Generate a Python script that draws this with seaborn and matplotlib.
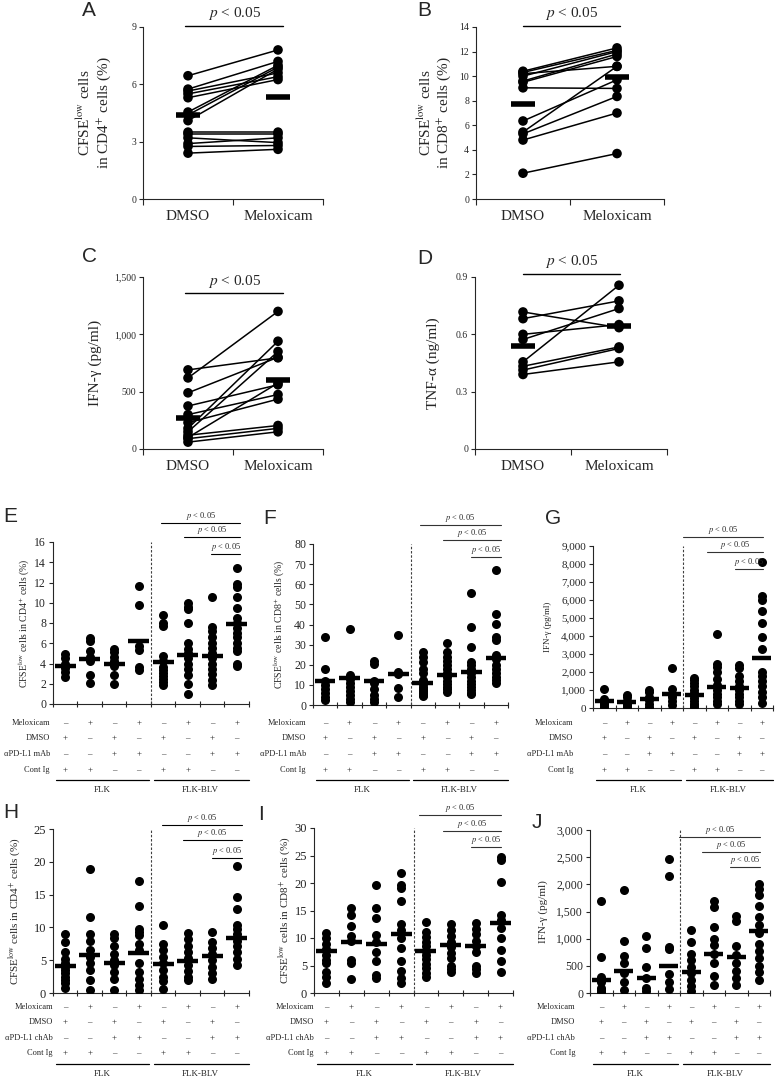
import numpy as np
import pandas as pd
import matplotlib
matplotlib.use("Agg")
import matplotlib.pyplot as plt
import matplotlib.transforms as mtransforms
from matplotlib.lines import Line2D
from matplotlib.ticker import FuncFormatter
import seaborn as sns

# ---------------- data ----------------
paired_labels = ["DMSO", "Meloxicam"]

a_dmso = [6.45, 5.75, 5.65, 5.5, 5.3, 4.55, 4.4, 4.1, 3.5, 3.4, 3.2, 2.9, 2.75, 2.4]
a_melox = [7.8, 7.2, 6.6, 6.4, 6.25, 7.0, 6.9, 6.8, 3.5, 3.4, 2.95, 3.2, 2.8, 2.6]
a_means = [4.4, 5.32]

b_dmso = [10.4, 10.3, 10.2, 10.0, 9.6, 9.5, 9.05, 6.35, 5.45, 5.3, 4.8, 2.1]
b_melox = [12.3, 12.1, 10.8, 12.0, 11.8, 11.6, 9.0, 9.7, 10.8, 8.35, 7.0, 3.7]
b_means = [7.7, 9.95]

c_dmso = [690, 620, 490, 375, 300, 230, 180, 150, 120, 100, 90, 60]
c_melox = [795, 1200, 800, 560, 475, 435, 940, 850, 205, 575, 180, 150]
c_means = [267, 600]

d_dmso = [0.717, 0.682, 0.60, 0.573, 0.456, 0.433, 0.413, 0.39]
d_melox = [0.635, 0.775, 0.651, 0.735, 0.857, 0.534, 0.526, 0.456]
d_means = [0.538, 0.644]

e_groups = [
    [4.9, 4.5, 4.0, 3.6, 3.2, 2.7],
    [6.5, 6.2, 5.2, 4.6, 4.2, 2.9, 2.1],
    [5.4, 5.1, 4.6, 4.2, 3.8, 2.9, 2.0],
    [11.7, 9.8, 5.7, 5.3, 3.7, 3.4],
    [8.8, 8.0, 7.7, 4.7, 4.2, 3.7, 3.4, 3.1, 2.8, 2.5, 2.2, 1.9],
    [10.0, 9.6, 9.4, 8.0, 6.0, 5.4, 5.0, 4.5, 4.0, 3.5, 2.9, 2.0, 1.0],
    [10.6, 7.6, 7.2, 6.6, 6.0, 5.5, 5.0, 4.5, 4.0, 3.5, 3.0, 2.4, 1.9],
    [13.4, 11.9, 11.6, 10.6, 9.5, 8.5, 8.0, 7.5, 7.0, 6.6, 6.0, 5.5, 5.2, 4.0, 3.8],
]
e_means = [3.76, 4.42, 4.0, 6.25, 4.12, 4.85, 4.75, 7.95]

f_groups = [
    [34, 18, 12, 10, 8, 6, 4, 2.5],
    [37.6, 15, 13, 11, 9, 7, 5, 3, 1.7],
    [22, 20.5, 12, 11, 8, 5, 3, 1.7],
    [34.8, 16.6, 15.2, 8.3, 3.8],
    [26.5, 24, 21.5, 18, 15.7, 12.5, 10.5, 9, 8, 7, 6, 5, 4.5],
    [31, 26.5, 24, 22, 20, 18, 16, 14, 12, 10.5, 9, 8, 6.6],
    [55.5, 39, 29, 21.5, 20, 18, 16, 14, 12, 10.5, 9, 7.5, 6, 5.3],
    [67, 45, 40.2, 34, 32.3, 25, 23, 20, 18, 16, 14, 12.5, 11],
]
f_means = [11.9, 13.2, 11.9, 15.2, 11.1, 14.9, 16.2, 23.2]

g_groups = [
    [1070, 500, 350, 250, 150, 50],
    [740, 600, 400, 250, 100, 30],
    [1020, 900, 600, 450, 250, 50],
    [2200, 1050, 700, 600, 400, 180],
    [1650, 1550, 1400, 1200, 1000, 850, 700, 550, 400, 250, 150, 50],
    [4100, 2450, 2300, 2000, 1600, 1300, 1000, 800, 600, 400, 250],
    [2400, 2200, 1800, 1500, 1200, 1000, 800, 600, 400, 200],
    [8100, 6250, 6000, 5400, 4750, 3950, 3300, 2000, 1800, 1500, 1200, 900, 600, 300],
]
g_means = [370, 333, 520, 796, 704, 1167, 1111, 2780]

h_groups = [
    [9.0, 7.8, 6.2, 5.2, 4.5, 4.0, 3.5, 3.0, 2.5, 2.0, 1.5, 0.8],
    [18.9, 11.6, 9.0, 8.0, 6.5, 5.5, 4.5, 3.5, 2.0, 0.4],
    [9.0, 8.4, 7.2, 6.0, 5.0, 4.2, 3.2, 2.2, 0.4],
    [17.0, 13.3, 9.8, 9.3, 8.8, 7.5, 6.5, 4.5, 3.2, 2.2, 1.2, 0.4],
    [10.4, 7.4, 6.5, 5.5, 4.5, 3.5, 2.5, 1.8, 0.6],
    [9.1, 8.2, 7.2, 6.3, 5.3, 4.3, 3.3, 2.5, 2.0],
    [9.3, 7.7, 6.8, 6.0, 5.0, 4.0, 3.0, 2.1],
    [19.4, 14.6, 12.8, 10.3, 9.8, 9.0, 8.0, 7.2, 6.2, 5.2, 4.2],
]
h_means = [4.05, 5.8, 4.55, 6.1, 4.45, 4.95, 5.6, 8.4]

i_groups = [
    [10.9, 10.0, 9.0, 8.0, 7.0, 6.0, 5.4, 3.9, 3.0, 1.8],
    [15.4, 14.2, 12.1, 10.3, 9.4, 6.0, 5.4, 2.6],
    [19.6, 15.5, 13.6, 10.6, 9.2, 7.5, 5.8, 3.3, 2.7],
    [21.8, 19.7, 19.1, 16.8, 12.5, 11.5, 10.0, 8.2, 5.8, 4.0, 2.7, 1.8],
    [12.9, 11.1, 10.2, 9.3, 8.5, 7.7, 6.9, 6.1, 5.3, 4.5, 3.7, 2.9],
    [12.5, 11.4, 10.3, 9.3, 8.3, 7.3, 6.3, 5.0, 4.3, 3.8],
    [12.7, 11.6, 10.7, 9.5, 8.5, 7.5, 5.0, 4.3, 3.6],
    [24.7, 24.2, 20.2, 14.2, 13.3, 11.8, 10.0, 7.9, 5.8, 3.9],
]
i_means = [7.57, 9.26, 9.0, 10.7, 7.57, 8.8, 8.5, 12.7]

j_groups = [
    [1690, 670, 300, 200, 100, 50, 20],
    [1890, 960, 690, 550, 370, 200, 60],
    [1040, 820, 480, 270, 100, 30],
    [2460, 2150, 850, 810, 350, 200, 80],
    [1160, 940, 720, 600, 480, 360, 240, 120, 30],
    [1700, 1580, 1220, 1000, 880, 720, 560, 310, 150],
    [1420, 1330, 870, 700, 560, 400, 280, 150],
    [2000, 1920, 1800, 1600, 1400, 1260, 1100, 900, 780, 650, 500, 380, 240],
]
j_means = [244, 409, 274, 488, 384, 720, 671, 1146]

row_meloxicam = ["\u2013", "+", "\u2013", "+", "\u2013", "+", "\u2013", "+"]
row_dmso = ["+", "\u2013", "+", "\u2013", "+", "\u2013", "+", "\u2013"]
row_pdl1 = ["\u2013", "\u2013", "+", "+", "\u2013", "\u2013", "+", "+"]
row_contig = ["+", "+", "\u2013", "\u2013", "+", "+", "\u2013", "\u2013"]
rows_mab = ["Meloxicam", "DMSO", "\u03b1PD-L1 mAb", "Cont Ig"]
rows_chab = ["Meloxicam", "DMSO", "\u03b1PD-L1 chAb", "Cont Ig"]
group_names = ["FLK", "FLK-BLV"]
p_text = r"$p$ < 0.05"

# ---------------- style ----------------
sns.set_style("ticks")
plt.rcParams["font.family"] = ["Liberation Serif", "DejaVu Serif"]
plt.rcParams["mathtext.fontset"] = "stix"
plt.rcParams["axes.linewidth"] = 0.8

W, H = 777, 1078
fig = plt.figure(figsize=(W / 100, H / 100), dpi=100)


def fy(px):
    return 1 - px / H


def rect(l, r, t, b):
    return [l / W, 1 - b / H, (r - l) / W, (b - t) / H]


def fig_tr(ax):
    return mtransforms.blended_transform_factory(ax.transData, fig.transFigure)


def hline(ax, x0, x1, ypx, lw=0.9, color="black"):
    fig.add_artist(Line2D([x0, x1], [fy(ypx), fy(ypx)], transform=fig_tr(ax),
                          color=color, lw=lw))


def letter(x, y, s):
    fig.text(x / W, fy(y), s, fontsize=15, family=["Liberation Sans", "DejaVu Sans"],
             ha="left", va="center")


def style_axes(ax, ylim, yticks, fmt, ysize):
    sns.despine(ax=ax)
    ax.set_ylim(*ylim)
    ax.set_yticks(yticks)
    ax.yaxis.set_major_formatter(FuncFormatter(fmt))
    ax.tick_params(axis="y", labelsize=ysize, length=3, width=0.8, pad=2)


def paired_panel(rc, dmso, melox, means, ylim, yticks, fmt, ylabel, labx,
                 p_x, p_y, p_gap):
    ax = fig.add_axes(rect(*rc))
    n = len(dmso)
    df = pd.DataFrame({"subject": list(range(n)) * 2,
                       "pos": [0] * n + [1] * n,
                       "value": list(dmso) + list(melox)})
    sns.lineplot(data=df, x="pos", y="value", units="subject", estimator=None,
                 color="black", lw=1.1, ax=ax, legend=False)
    sns.scatterplot(data=df, x="pos", y="value", color="black", s=48,
                    edgecolor="none", ax=ax, zorder=3, legend=False)
    ax.hlines(means, [-0.13, 0.87], [0.13, 1.13], color="black", lw=4.0, zorder=4)
    ax.set_xlim(-0.5, 1.5)
    style_axes(ax, ylim, yticks, fmt, 7)
    ax.set_xticks([0, 1])
    ax.set_xticklabels(paired_labels, fontsize=11)
    ax.set_xticks([-0.5, 0.5, 1.5], minor=True)
    ax.tick_params(axis="x", which="major", length=0, pad=8)
    ax.tick_params(axis="x", which="minor", length=4, width=0.8)
    ax.set_xlabel("")
    ax.set_ylabel(ylabel, fontsize=11, linespacing=1.15)
    ax.yaxis.set_label_coords(labx, 0.5)
    hline(ax, p_x[0], p_x[1], p_y, lw=1.0)
    ax.text(sum(p_x) / 2, fy(p_y - p_gap), p_text, transform=fig_tr(ax),
            ha="center", va="center", fontsize=11)
    return ax


def group_panel(rc, groups, means, ylim, yticks, fmt, ysize, ylabel, labsize, labx,
                p_starts, p_end, p_ys, row_names, label_right, row_ys, gline_y,
                gtext_y, bcolor="black"):
    ax = fig.add_axes(rect(*rc))
    df = pd.DataFrame({"group": np.repeat(np.arange(8), [len(g) for g in groups]),
                       "value": np.concatenate([np.asarray(g, float) for g in groups])})
    sns.stripplot(data=df, x="group", y="value", jitter=False, color="black",
                  size=6.5, linewidth=0, ax=ax, zorder=3)
    ax.hlines(means, np.arange(8) - 0.42, np.arange(8) + 0.42, color="black",
              lw=3.2, zorder=4)
    ax.axvline(3.5, color="0.25", lw=0.8, ls=(0, (2.2, 1.6)))
    ax.set_xlim(-0.5, 7.5)
    style_axes(ax, ylim, yticks, fmt, ysize)
    ax.set_xticks(range(8))
    ax.set_xticklabels([])
    ax.tick_params(axis="x", which="major", length=0)
    ax.set_xticks(np.arange(-0.5, 8, 1.0), minor=True)
    ax.tick_params(axis="x", which="minor", length=4, width=0.8, direction="inout")
    ax.set_xlabel("")
    ax.set_ylabel(ylabel, fontsize=labsize)
    ax.yaxis.set_label_coords(labx, 0.5)
    tr = fig_tr(ax)
    for x0, py in zip(p_starts, p_ys):
        hline(ax, x0, p_end, py, lw=0.8, color=bcolor)
        ax.text((x0 + p_end) / 2, fy(py - 7), p_text, transform=tr, ha="center",
                va="center", fontsize=6)
    rows = [row_meloxicam, row_dmso, row_pdl1, row_contig]
    for name, row, ry in zip(row_names, rows, row_ys):
        fig.text(label_right / W, fy(ry), name, ha="right", va="center", fontsize=6)
        for i, s in enumerate(row):
            ax.text(i, fy(ry), s, transform=tr, ha="center", va="center", fontsize=6.5)
    hline(ax, -0.38, 3.42, gline_y, lw=0.9)
    hline(ax, 3.62, 7.5, gline_y, lw=0.9)
    ax.text(1.5, fy(gtext_y), group_names[0], transform=tr, ha="center",
            va="center", fontsize=6.5)
    ax.text(5.5, fy(gtext_y), group_names[1], transform=tr, ha="center",
            va="center", fontsize=6.5)
    return ax


def f_int(v, pos=None):
    return f"{v:,.0f}"


def f_d1(v, pos=None):
    return "0" if v == 0 else f"{v:.1f}"


cfse4 = "CFSE$^{\\rm low}$ cells\nin CD4$^{+}$ cells (%)"
cfse8 = "CFSE$^{\\rm low}$ cells\nin CD8$^{+}$ cells (%)"

paired_panel((143, 323, 27, 199), a_dmso, a_melox, a_means, (0, 9), [0, 3, 6, 9],
             f_int, cfse4, -0.167, (-0.03, 1.06), 26, 12)
paired_panel((476, 664, 27, 199), b_dmso, b_melox, b_means, (0, 14),
             list(range(0, 15, 2)), f_int, cfse8, -0.122, (0.0, 1.03), 26, 12)
paired_panel((143, 323, 277, 449), c_dmso, c_melox, c_means, (0, 1500),
             [0, 500, 1000, 1500], f_int, "IFN-\u03b3 (pg/ml)", -0.228,
             (-0.03, 1.06), 293, 11)
paired_panel((475, 667, 277, 449), d_dmso, d_melox, d_means, (0, 0.9),
             [0, 0.3, 0.6, 0.9], f_d1, "TNF-\u03b1 (ng/ml)", -0.18,
             (0.0, 1.01), 274, 12)

top_rows = [723, 738, 754, 770]
bot_rows = [1007, 1022, 1038, 1053]

group_panel((53, 249, 542, 704), e_groups, e_means, (0, 16), list(range(0, 17, 2)),
            f_int, 8.5, "CFSE$^{\\rm low}$ cells in CD4$^{+}$ cells (%)", 7, -0.107,
            [3.9, 4.85, 5.95], 7.15, [523, 537, 554], rows_mab, 50, top_rows, 780, 790)
group_panel((313, 508, 544, 705), f_groups, f_means, (0, 80), list(range(0, 81, 10)),
            f_int, 8.5, "CFSE$^{\\rm low}$ cells in CD8$^{+}$ cells (%)", 7, -0.133,
            [3.9, 4.83, 6.0], 7.2, [525, 540, 557], rows_mab, 306, top_rows, 780, 790,
            bcolor="0.2")
group_panel((593, 773, 546, 708), g_groups, g_means, (0, 9000),
            list(range(0, 9001, 1000)), f_int, 8, "IFN-\u03b3 (pg/ml)", 6.5, -0.228,
            [3.5, 4.57, 5.8], 7.06, [537, 552, 569], rows_mab, 573, top_rows, 780, 790,
            bcolor="0.2")
group_panel((53, 249, 829, 993), h_groups, h_means, (0, 25), list(range(0, 26, 5)),
            f_int, 9, "CFSE$^{\\rm low}$ cells in CD4$^{+}$ cells (%)", 8, -0.158,
            [3.95, 4.8, 6.0], 7.2, [825, 840, 858], rows_chab, 53, bot_rows, 1064, 1074)
group_panel((314, 513, 828, 993), i_groups, i_means, (0, 30), list(range(0, 31, 5)),
            f_int, 9, "CFSE$^{\\rm low}$ cells in CD8$^{+}$ cells (%)", 8, -0.11,
            [3.72, 4.68, 5.8], 7.0, [815, 831, 847], rows_chab, 314, bot_rows, 1064, 1074,
            bcolor="0.2")
group_panel((590, 770, 830, 993), j_groups, j_means, (0, 3000),
            list(range(0, 3001, 500)), f_int, 8.5, "IFN-\u03b3 (pg/ml)", 8, -0.233,
            [3.46, 4.48, 5.72], 7.06, [837, 852, 867], rows_chab, 575, bot_rows, 1064, 1074,
            bcolor="0.2")

letter(82, 11, "A")
letter(417, 10, "B")
letter(82, 256, "C")
letter(417, 259, "D")
letter(3, 517, "E")
letter(263, 518, "F")
letter(545, 519, "G")
letter(3, 813, "H")
letter(258, 815, "I")
letter(532, 823, "J")

fig.savefig("out.png", dpi=100, facecolor="white")
